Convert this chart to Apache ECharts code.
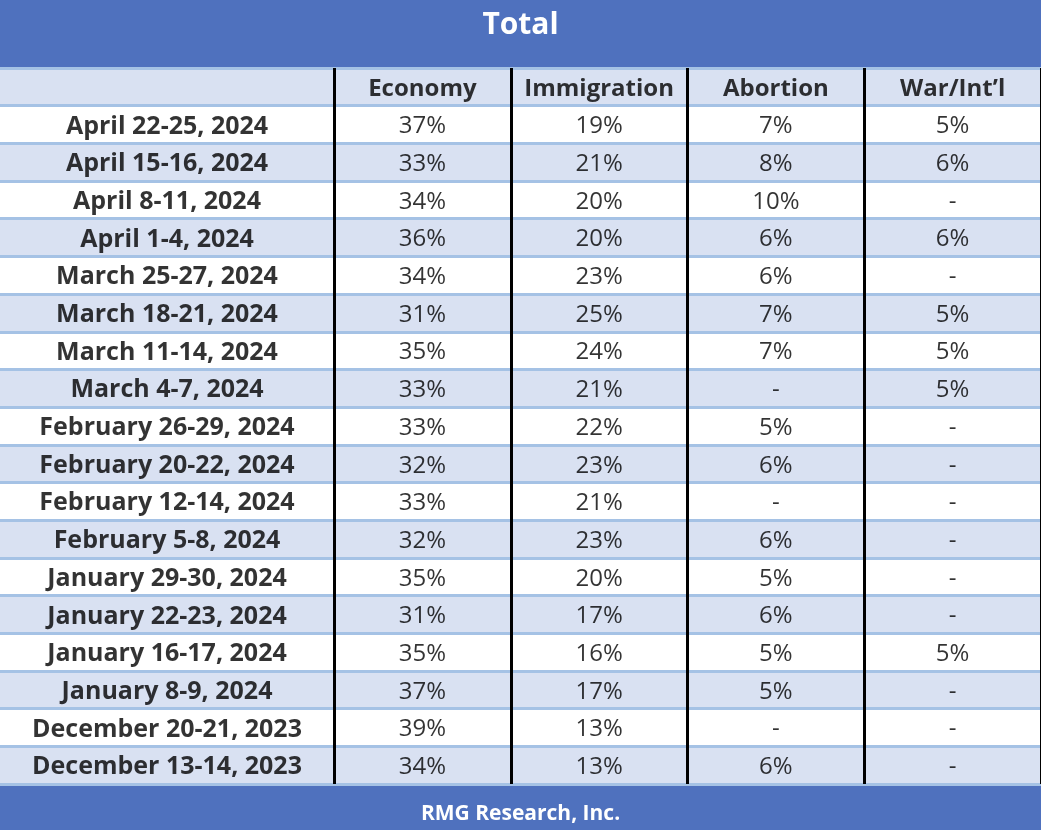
<!DOCTYPE html>
<html>
<head>
<meta charset="utf-8">
<script src="https://cdn.jsdelivr.net/npm/echarts@6/dist/echarts.min.js"></script>
<style>html,body{margin:0;padding:0;background:#fff}#c{width:1041px;height:830px}</style>
</head>
<body>
<div id="c"></div>
<script>
const titleText = "Total";
const footerText = "RMG Research, Inc.";
const topics = ["Economy", "Immigration", "Abortion", "War/Int\u2019l"];
const dates = ["April 22-25, 2024","April 15-16, 2024","April 8-11, 2024","April 1-4, 2024","March 25-27, 2024","March 18-21, 2024","March 11-14, 2024","March 4-7, 2024","February 26-29, 2024","February 20-22, 2024","February 12-14, 2024","February 5-8, 2024","January 29-30, 2024","January 22-23, 2024","January 16-17, 2024","January 8-9, 2024","December 20-21, 2023","December 13-14, 2023"];
const economy = [37,33,34,36,34,31,35,33,33,32,33,32,35,31,35,37,39,34];
const immigration = [19,21,20,20,23,25,24,21,22,23,21,23,20,17,16,17,13,13];
const abortion = [7,8,10,6,6,7,7,null,5,6,null,6,5,6,5,5,null,6];
const warIntl = [5,6,null,6,null,5,5,5,null,null,null,null,null,null,5,null,null,null];

const FONT = '"Open Sans", "Noto Sans", sans-serif';
const rows = [''].concat(dates);
const seriesVals = [economy, immigration, abortion, warIntl];
const fmt = v => (v === null || v === undefined) ? '-' : v + '%';

const headerData = topics.map((t, i) => ({value: [i, 0], name: t, label: {fontWeight: 'bold', fontSize: 24}}));
const cellData = [];
seriesVals.forEach((arr, c) => arr.forEach((v, r) => cellData.push({value: [c, r + 1], name: fmt(v)})));
const dateData = dates.map((d, r) => ({value: [0, r + 1], name: d}));

const rowAxis = (gi) => ({
  type: 'category', gridIndex: gi, data: rows, inverse: true,
  axisLine: {show: false}, axisTick: {show: false}, axisLabel: {show: false},
  splitArea: {show: true, areaStyle: {color: ['#D9E1F2', '#FFFFFF']}},
  splitLine: {show: true, lineStyle: {color: '#A5C2E5', width: 3}}
});

const chart = echarts.init(document.getElementById('c'), null, {renderer: 'canvas'});
chart.setOption({
  backgroundColor: '#4F71BE',
  animation: false,
  title: [
    {text: titleText, left: 'center', top: 5, textStyle: {color: '#fff', fontFamily: FONT, fontWeight: 'bold', fontSize: 30}},
    {text: footerText, left: 'center', bottom: 0, textStyle: {color: '#fff', fontFamily: FONT, fontWeight: 'bold', fontSize: 21}}
  ],
  grid: [
    {left: 0, width: 334, top: 68, bottom: 46},
    {left: 334, right: -6, top: 68, bottom: 46}
  ],
  xAxis: [
    {type: 'category', gridIndex: 0, data: [''], show: false},
    {type: 'category', gridIndex: 1, data: topics,
      axisLine: {show: false}, axisTick: {show: false}, axisLabel: {show: false},
      splitLine: {show: true, lineStyle: {color: '#000', width: 3}}}
  ],
  yAxis: [rowAxis(0), rowAxis(1)],
  series: [
    {type: 'scatter', xAxisIndex: 0, yAxisIndex: 0, symbolSize: 1, itemStyle: {color: 'rgba(0,0,0,0)'},
      data: dateData, z: 5,
      label: {show: true, position: 'inside', offset: [0, 2], formatter: p => p.name, color: '#000', fontFamily: FONT, fontWeight: 'bold', fontSize: 25}},
    {type: 'scatter', xAxisIndex: 1, yAxisIndex: 1, symbolSize: 1, itemStyle: {color: 'rgba(0,0,0,0)'},
      data: headerData.concat(cellData), z: 5,
      label: {show: true, position: 'inside', offset: [0, 2], formatter: p => p.name, color: '#000', fontFamily: FONT, fontSize: 24}}
  ]
});
</script>
</body>
</html>
